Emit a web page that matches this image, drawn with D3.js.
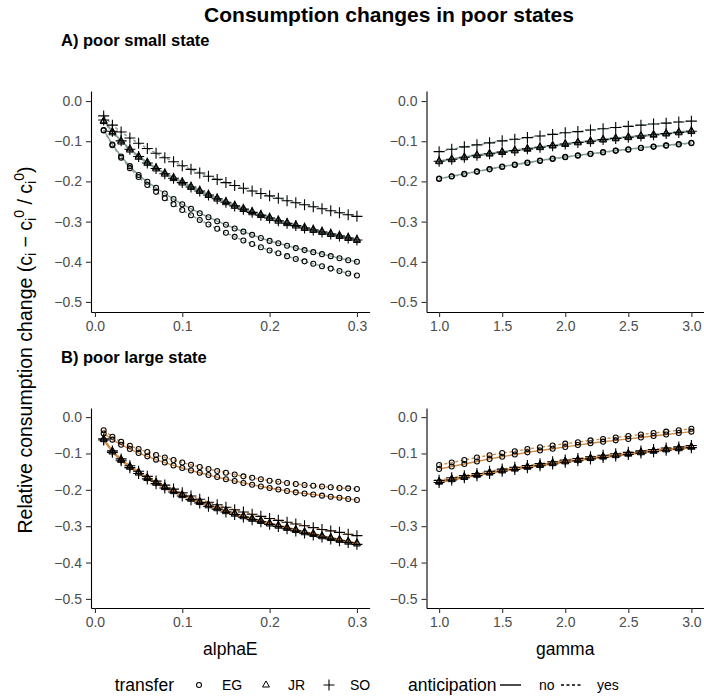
<!DOCTYPE html>
<html>
<head>
<meta charset="utf-8">
<script src="https://cdn.jsdelivr.net/npm/d3@7"></script>
<style>
  body { margin: 0; background: #fff; }
  text { font-family: "Liberation Sans", Arial, sans-serif; }
</style>
</head>
<body>
<svg id="chart" width="704" height="700"></svg>
<script>
// x values
const alphaE = [0.01, 0.02, 0.03, 0.04, 0.05, 0.06, 0.07, 0.08, 0.09, 0.10,
  0.11, 0.12, 0.13, 0.14, 0.15, 0.16, 0.17, 0.18, 0.19, 0.20,
  0.21, 0.22, 0.23, 0.24, 0.25, 0.26, 0.27, 0.28, 0.29, 0.30];
const gammaV = [1.0, 1.1, 1.2, 1.3, 1.4, 1.5, 1.6, 1.7, 1.8, 1.9, 2.0,
  2.1, 2.2, 2.3, 2.4, 2.5, 2.6, 2.7, 2.8, 2.9, 3.0];

const alphaTicks = [0, 0.1, 0.2, 0.3];
const gammaTicks = [1, 1.5, 2, 2.5, 3];
const yTicks = [0, -0.1, -0.2, -0.3, -0.4, -0.5];

const transfers = ["EG", "JR", "SO"];
const anticipation = ["no", "yes"];

// A) poor small state, alphaE
const smallAlphaEGno = [-0.072, -0.108, -0.138, -0.162, -0.184, -0.201, -0.216, -0.230, -0.244, -0.257, -0.268, -0.279, -0.289, -0.299, -0.308, -0.317, -0.325, -0.333, -0.341, -0.348, -0.354, -0.360, -0.366, -0.371, -0.376, -0.381, -0.386, -0.391, -0.396, -0.400];
const smallAlphaEGyes = [-0.073, -0.110, -0.141, -0.167, -0.189, -0.209, -0.226, -0.242, -0.257, -0.271, -0.284, -0.296, -0.307, -0.318, -0.328, -0.338, -0.347, -0.356, -0.364, -0.372, -0.379, -0.386, -0.393, -0.399, -0.405, -0.411, -0.417, -0.423, -0.429, -0.434];
const smallAlphaJRno = [-0.049, -0.076, -0.099, -0.119, -0.137, -0.152, -0.166, -0.179, -0.190, -0.201, -0.212, -0.222, -0.232, -0.241, -0.250, -0.259, -0.267, -0.275, -0.282, -0.289, -0.296, -0.302, -0.308, -0.314, -0.319, -0.324, -0.329, -0.334, -0.339, -0.344];
const smallAlphaJRyes = [-0.051, -0.079, -0.102, -0.122, -0.140, -0.155, -0.169, -0.182, -0.193, -0.204, -0.215, -0.225, -0.235, -0.244, -0.253, -0.262, -0.270, -0.278, -0.285, -0.292, -0.299, -0.305, -0.311, -0.317, -0.322, -0.327, -0.332, -0.337, -0.342, -0.347];
const smallAlphaSOno = [-0.047, -0.075, -0.099, -0.120, -0.138, -0.154, -0.168, -0.181, -0.192, -0.203, -0.214, -0.224, -0.234, -0.243, -0.252, -0.261, -0.269, -0.277, -0.284, -0.291, -0.298, -0.304, -0.310, -0.316, -0.321, -0.326, -0.331, -0.336, -0.341, -0.346];
const smallAlphaSOyes = [-0.037, -0.060, -0.077, -0.092, -0.105, -0.118, -0.130, -0.141, -0.151, -0.161, -0.170, -0.179, -0.187, -0.195, -0.203, -0.210, -0.217, -0.224, -0.230, -0.236, -0.242, -0.248, -0.253, -0.258, -0.263, -0.268, -0.273, -0.278, -0.283, -0.287];

// A) poor small state, gamma
const smallGammaEGno = [-0.193, -0.187, -0.181, -0.175, -0.169, -0.163, -0.158, -0.153, -0.148, -0.143, -0.139, -0.135, -0.131, -0.127, -0.123, -0.120, -0.116, -0.113, -0.110, -0.107, -0.104];
const smallGammaEGyes = [-0.194, -0.188, -0.182, -0.176, -0.170, -0.164, -0.159, -0.154, -0.149, -0.144, -0.140, -0.136, -0.132, -0.128, -0.124, -0.121, -0.117, -0.114, -0.111, -0.108, -0.105];
const smallGammaJRno = [-0.149, -0.144, -0.139, -0.134, -0.130, -0.126, -0.122, -0.118, -0.114, -0.110, -0.106, -0.102, -0.099, -0.095, -0.092, -0.089, -0.086, -0.083, -0.080, -0.077, -0.074];
const smallGammaJRyes = [-0.151, -0.146, -0.141, -0.136, -0.132, -0.128, -0.124, -0.120, -0.116, -0.112, -0.108, -0.104, -0.101, -0.097, -0.094, -0.091, -0.088, -0.085, -0.082, -0.079, -0.076];
const smallGammaSOno = [-0.150, -0.145, -0.140, -0.135, -0.131, -0.127, -0.123, -0.119, -0.115, -0.111, -0.107, -0.103, -0.100, -0.096, -0.093, -0.090, -0.087, -0.084, -0.081, -0.078, -0.075];
const smallGammaSOyes = [-0.126, -0.120, -0.114, -0.109, -0.104, -0.099, -0.095, -0.091, -0.087, -0.083, -0.079, -0.076, -0.072, -0.069, -0.066, -0.063, -0.060, -0.057, -0.055, -0.052, -0.050];

// B) poor large state, alphaE
const largeAlphaEGno = [-0.045, -0.062, -0.076, -0.088, -0.099, -0.108, -0.117, -0.125, -0.133, -0.140, -0.147, -0.153, -0.159, -0.165, -0.171, -0.176, -0.181, -0.186, -0.191, -0.195, -0.199, -0.203, -0.207, -0.210, -0.213, -0.216, -0.219, -0.222, -0.225, -0.228];
const largeAlphaEGyes = [-0.036, -0.054, -0.068, -0.079, -0.088, -0.096, -0.104, -0.111, -0.118, -0.125, -0.131, -0.137, -0.143, -0.148, -0.153, -0.158, -0.163, -0.167, -0.171, -0.175, -0.178, -0.181, -0.184, -0.187, -0.189, -0.191, -0.193, -0.195, -0.196, -0.198];
const largeAlphaJRno = [-0.060, -0.093, -0.116, -0.135, -0.151, -0.166, -0.179, -0.191, -0.202, -0.213, -0.223, -0.232, -0.241, -0.249, -0.257, -0.264, -0.271, -0.278, -0.284, -0.291, -0.297, -0.303, -0.309, -0.315, -0.320, -0.326, -0.331, -0.336, -0.341, -0.346];
const largeAlphaJRyes = [-0.062, -0.096, -0.119, -0.138, -0.154, -0.169, -0.182, -0.194, -0.205, -0.216, -0.226, -0.235, -0.244, -0.252, -0.260, -0.267, -0.274, -0.281, -0.287, -0.294, -0.300, -0.306, -0.312, -0.318, -0.323, -0.329, -0.334, -0.339, -0.344, -0.349];
const largeAlphaSOno = [-0.063, -0.097, -0.120, -0.139, -0.155, -0.170, -0.183, -0.195, -0.206, -0.217, -0.227, -0.236, -0.245, -0.253, -0.261, -0.268, -0.275, -0.282, -0.288, -0.295, -0.301, -0.307, -0.313, -0.319, -0.324, -0.330, -0.335, -0.340, -0.345, -0.350];
const largeAlphaSOyes = [-0.060, -0.093, -0.115, -0.134, -0.149, -0.163, -0.176, -0.187, -0.198, -0.208, -0.217, -0.226, -0.234, -0.241, -0.248, -0.255, -0.261, -0.267, -0.273, -0.279, -0.284, -0.289, -0.294, -0.299, -0.304, -0.309, -0.313, -0.317, -0.322, -0.326];

// B) poor large state, gamma
const largeGammaEGno = [-0.143, -0.136, -0.129, -0.122, -0.115, -0.109, -0.103, -0.097, -0.092, -0.087, -0.082, -0.077, -0.072, -0.068, -0.064, -0.060, -0.056, -0.052, -0.048, -0.044, -0.040];
const largeGammaEGyes = [-0.132, -0.125, -0.118, -0.111, -0.105, -0.099, -0.094, -0.088, -0.083, -0.078, -0.073, -0.069, -0.064, -0.060, -0.056, -0.052, -0.048, -0.044, -0.040, -0.036, -0.032];
const largeGammaJRno = [-0.177, -0.170, -0.164, -0.158, -0.152, -0.146, -0.141, -0.136, -0.131, -0.126, -0.121, -0.117, -0.112, -0.108, -0.104, -0.100, -0.096, -0.092, -0.088, -0.085, -0.081];
const largeGammaJRyes = [-0.179, -0.172, -0.166, -0.160, -0.154, -0.148, -0.143, -0.138, -0.133, -0.128, -0.123, -0.119, -0.114, -0.110, -0.106, -0.102, -0.098, -0.094, -0.090, -0.087, -0.083];
const largeGammaSOno = [-0.180, -0.173, -0.167, -0.161, -0.155, -0.149, -0.144, -0.139, -0.134, -0.129, -0.124, -0.120, -0.115, -0.111, -0.107, -0.103, -0.099, -0.095, -0.091, -0.088, -0.084];
const largeGammaSOyes = [-0.174, -0.167, -0.161, -0.155, -0.149, -0.143, -0.138, -0.133, -0.128, -0.123, -0.118, -0.114, -0.109, -0.105, -0.101, -0.097, -0.093, -0.089, -0.085, -0.082, -0.078];

const smallColor = "#84a095";
const largeColor = "#cf8a43";

const mkSeries = (eg0, eg1, jr0, jr1, so0, so1) => [
  { transfer: "EG", anticipation: "no", values: eg0 },
  { transfer: "EG", anticipation: "yes", values: eg1 },
  { transfer: "JR", anticipation: "no", values: jr0 },
  { transfer: "JR", anticipation: "yes", values: jr1 },
  { transfer: "SO", anticipation: "no", values: so0 },
  { transfer: "SO", anticipation: "yes", values: so1 },
];

const panels = [
  { xs: alphaE, ticks: alphaTicks, xDomain: [-0.0045, 0.3145], xRange: [91, 369.6], yRange: [312, 91], color: smallColor,
    series: mkSeries(smallAlphaEGno, smallAlphaEGyes, smallAlphaJRno, smallAlphaJRyes, smallAlphaSOno, smallAlphaSOyes) },
  { xs: gammaV, ticks: gammaTicks, xDomain: [0.9, 3.1], xRange: [426.5, 704], yRange: [312, 91], color: smallColor,
    series: mkSeries(smallGammaEGno, smallGammaEGyes, smallGammaJRno, smallGammaJRyes, smallGammaSOno, smallGammaSOyes) },
  { xs: alphaE, ticks: alphaTicks, xDomain: [-0.0045, 0.3145], xRange: [91, 369.6], yRange: [608, 408], color: largeColor, title: "alphaE",
    series: mkSeries(largeAlphaEGno, largeAlphaEGyes, largeAlphaJRno, largeAlphaJRyes, largeAlphaSOno, largeAlphaSOyes) },
  { xs: gammaV, ticks: gammaTicks, xDomain: [0.9, 3.1], xRange: [426.5, 704], yRange: [608, 408], color: largeColor, title: "gamma",
    series: mkSeries(largeGammaEGno, largeGammaEGyes, largeGammaJRno, largeGammaJRyes, largeGammaSOno, largeGammaSOyes) },
];

const svg = d3.select("#chart");
const fmt = d3.format(".1f");

const drawShape = (g, shape, x, y) => {
  if (shape === "EG") {
    g.append("circle").attr("cx", x).attr("cy", y).attr("r", 2.5)
      .attr("fill", "none").attr("stroke", "#000").attr("stroke-width", 1.05);
  } else if (shape === "JR") {
    g.append("path").attr("d", d3.symbol(d3.symbolTriangle, 21)())
      .attr("transform", `translate(${x},${y})`)
      .attr("fill", "none").attr("stroke", "#000").attr("stroke-width", 1);
  } else {
    g.append("path").attr("d", "M-5.5,0H5.5M0,-5.5V5.5")
      .attr("transform", `translate(${x},${y})`)
      .attr("fill", "none").attr("stroke", "#000").attr("stroke-width", 1.1);
  }
};

panels.forEach((p) => {
  const x = d3.scaleLinear().domain(p.xDomain).range(p.xRange);
  const y = d3.scaleLinear().domain([-0.525, 0.025]).range(p.yRange);
  const g = svg.append("g");

  const line = d3.line().x((d, i) => x(p.xs[i])).y((d) => y(d));
  g.selectAll("path.series")
    .data(p.series)
    .enter()
    .append("path")
    .attr("class", "series")
    .attr("d", (s) => line(s.values))
    .attr("fill", "none")
    .attr("stroke", p.color)
    .attr("stroke-width", 1.4)
    .attr("stroke-dasharray", (s) => (s.anticipation === "yes" ? "3,2.5" : null));

  const pts = g.append("g");
  p.series.forEach((s) => {
    s.values.forEach((v, i) => drawShape(pts, s.transfer, x(p.xs[i]), y(v)));
  });

  const xAxis = g.append("g")
    .attr("transform", `translate(0,${p.yRange[0]})`)
    .call(d3.axisBottom(x).tickValues(p.ticks).tickFormat(fmt).tickSize(5).tickSizeOuter(0).tickPadding(4));
  const yAxis = g.append("g")
    .attr("transform", `translate(${p.xRange[0]},0)`)
    .call(d3.axisLeft(y).tickValues(yTicks).tickFormat(fmt).tickSize(5).tickSizeOuter(0).tickPadding(4));
  [xAxis, yAxis].forEach((a) => {
    a.select(".domain").attr("stroke", "#000").attr("stroke-width", 1.1);
    a.selectAll(".tick line").attr("stroke", "#333").attr("stroke-width", 1.1);
    a.selectAll(".tick text").attr("fill", "#4d4d4d").style("font-size", "14px")
      .style("font-family", "'Liberation Sans', Arial, sans-serif");
  });

  if (p.title) {
    svg.append("text")
      .attr("x", (p.xRange[0] + p.xRange[1]) / 2)
      .attr("y", 649)
      .attr("dy", "0.35em")
      .attr("text-anchor", "middle")
      .style("font-size", "17.5px")
      .text(p.title);
  }
});

// titles
svg.append("text").attr("x", 389).attr("y", 15).attr("dy", "0.35em")
  .attr("text-anchor", "middle").style("font-size", "21px").style("font-weight", "bold")
  .text("Consumption changes in poor states");
svg.append("text").attr("x", 61).attr("y", 40).attr("dy", "0.35em")
  .style("font-size", "16.5px").style("font-weight", "bold").text("A) poor small state");
svg.append("text").attr("x", 61).attr("y", 357).attr("dy", "0.35em")
  .style("font-size", "16.5px").style("font-weight", "bold").text("B) poor large state");

// y label
const yl = svg.append("text")
  .attr("transform", "translate(25,350) rotate(-90)")
  .attr("text-anchor", "middle")
  .attr("dy", "0.35em")
  .style("font-size", "19.5px");
yl.append("tspan").text("Relative consumption change (c");
yl.append("tspan").attr("dy", 4).style("font-size", "14px").text("i");
yl.append("tspan").attr("dy", -4).text(" \u2212 c");
yl.append("tspan").attr("dy", 4).style("font-size", "14px").text("i");
yl.append("tspan").attr("dy", -12).style("font-size", "14px").text("0");
yl.append("tspan").attr("dy", 8).text(" / c");
yl.append("tspan").attr("dy", 4).style("font-size", "14px").text("i");
yl.append("tspan").attr("dy", -12).style("font-size", "14px").text("0");
yl.append("tspan").attr("dy", 8).text(")");

// legend
const legY = 685;
const leg = svg.append("g");
leg.append("text").attr("x", 174).attr("y", legY).attr("dy", "0.35em")
  .attr("text-anchor", "end").style("font-size", "17.5px").text("transfer");
const shapeKeys = [{ sx: 199, lx: 222 }, { sx: 266, lx: 288 }, { sx: 329, lx: 350 }];
transfers.forEach((t, i) => {
  drawShape(leg, t, shapeKeys[i].sx, legY);
  leg.append("text").attr("x", shapeKeys[i].lx).attr("y", legY).attr("dy", "0.35em")
    .style("font-size", "14px").text(t);
});
leg.append("text").attr("x", 408).attr("y", legY).attr("dy", "0.35em")
  .style("font-size", "17.5px").text("anticipation");
const lineKeys = [{ x1: 500, x2: 521, lx: 539 }, { x1: 561, x2: 583, lx: 597 }];
anticipation.forEach((a, i) => {
  leg.append("line").attr("x1", lineKeys[i].x1).attr("x2", lineKeys[i].x2)
    .attr("y1", legY).attr("y2", legY).attr("stroke", "#000").attr("stroke-width", 1.4)
    .attr("stroke-dasharray", a === "yes" ? "3,2.5" : null);
  leg.append("text").attr("x", lineKeys[i].lx).attr("y", legY).attr("dy", "0.35em")
    .style("font-size", "14px").text(a);
});
</script>
</body>
</html>
